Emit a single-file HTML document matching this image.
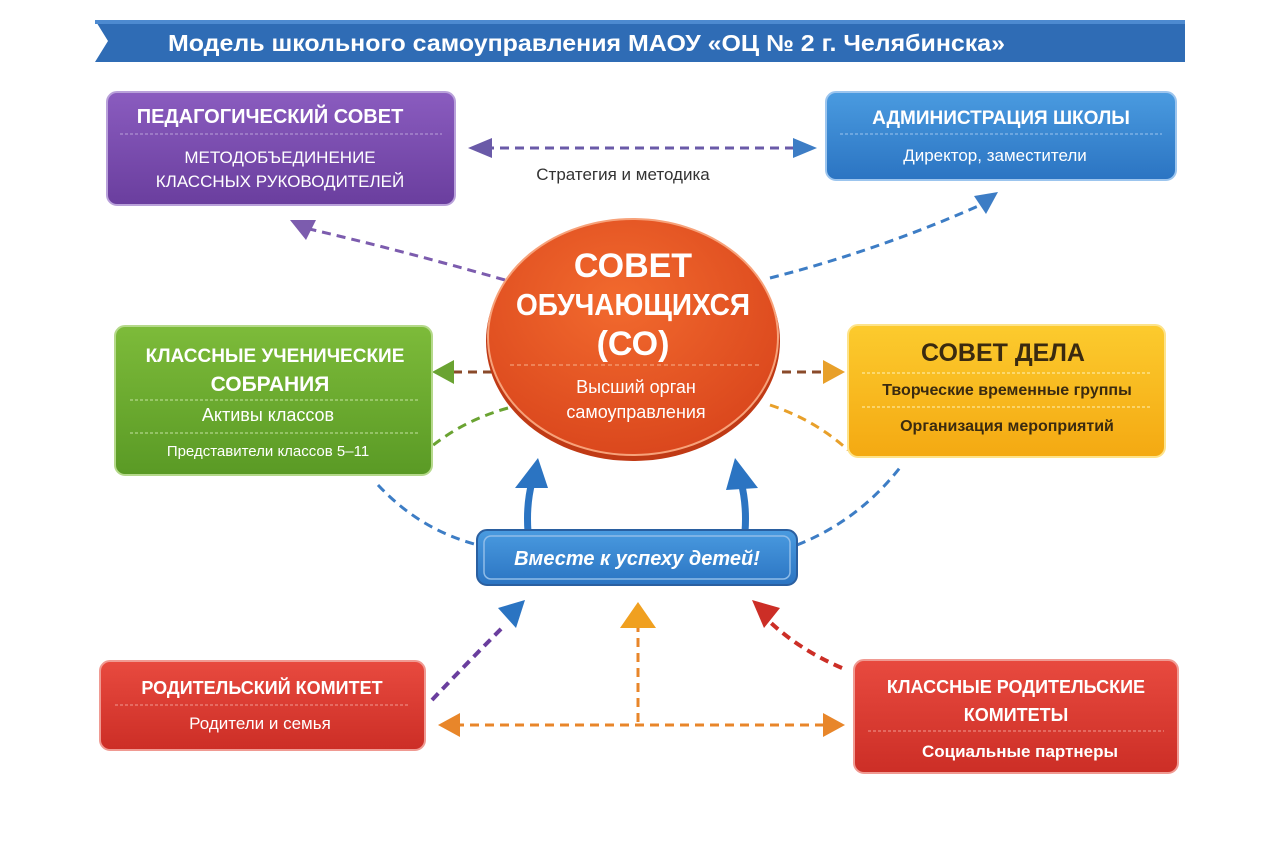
<!DOCTYPE html>
<html><head><meta charset="utf-8"><style>
body{margin:0;background:#fff;}
svg{display:block;font-family:"Liberation Sans","DejaVu Sans",sans-serif;}
</style></head><body>
<svg width="1280" height="853" viewBox="0 0 1280 853" xmlns="http://www.w3.org/2000/svg">
<defs>
<linearGradient id="gp" x1="0" y1="0" x2="0" y2="1"><stop offset="0" stop-color="#8a5cbf"/><stop offset="1" stop-color="#6a3e9e"/></linearGradient>
<linearGradient id="gb" x1="0" y1="0" x2="0" y2="1"><stop offset="0" stop-color="#4a9be0"/><stop offset="1" stop-color="#2b74c2"/></linearGradient>
<linearGradient id="gg" x1="0" y1="0" x2="0" y2="1"><stop offset="0" stop-color="#7dbb3a"/><stop offset="1" stop-color="#5a9a25"/></linearGradient>
<linearGradient id="gy" x1="0" y1="0" x2="0" y2="1"><stop offset="0" stop-color="#fccb2e"/><stop offset="1" stop-color="#f4a912"/></linearGradient>
<linearGradient id="gr" x1="0" y1="0" x2="0" y2="1"><stop offset="0" stop-color="#e84a3f"/><stop offset="1" stop-color="#cc2e26"/></linearGradient>
<radialGradient id="go" cx="0.45" cy="0.35" r="0.7"><stop offset="0" stop-color="#f26a2e"/><stop offset="1" stop-color="#d9451c"/></radialGradient>
</defs>
<!-- banner -->
<polygon points="95,20 1185,20 1185,62 95,62 108,41" fill="#2f6cb5"/>
<rect x="95" y="20" width="1090" height="4" fill="#4d8ad0"/>
<text x="168" y="51" font-size="23" font-weight="bold" fill="#fff" textLength="837" lengthAdjust="spacingAndGlyphs">Модель школьного самоуправления МАОУ «ОЦ № 2 г. Челябинска»</text>

<g fill="none" stroke-width="3" stroke-dasharray="9,6">
<line x1="485" y1="148" x2="800" y2="148" stroke="#6a5aa8"/>
<path d="M505,280 Q400,250 305,228" stroke="#7c5cae"/>
<path d="M770,278 Q880,250 985,203" stroke="#3d7dc5"/>
<line x1="492" y1="372" x2="452" y2="372" stroke="#8a4a2a"/>
<line x1="782" y1="372" x2="830" y2="372" stroke="#8a4a2a"/>
<path d="M508,408 Q465,420 432,446" stroke="#6aa332"/>
<path d="M770,405 Q815,420 848,450" stroke="#e8a02a"/>
<path d="M378,485 Q420,530 478,545" stroke="#3d7dc5"/>
<path d="M797,545 Q860,520 902,465" stroke="#3d7dc5"/>
<path d="M432,700 Q470,660 505,625" stroke="#6a3e9e" stroke-width="4"/>
<line x1="638" y1="722" x2="638" y2="625" stroke="#e8862a"/>
<path d="M842,668 Q800,650 770,622" stroke="#cc2e26" stroke-width="4"/>
<line x1="455" y1="725" x2="825" y2="725" stroke="#e8862a"/>
</g>
<polygon points="468,148 492,138 492,158" fill="#6a5aa8"/>
<polygon points="817,148 793,138 793,158" fill="#3d7dc5"/>
<polygon points="290,220 316,220 306,240" fill="#7c5cae"/>
<polygon points="998,192 974,196 986,214" fill="#3d7dc5"/>
<polygon points="432,372 454,360 454,384" fill="#6aa332"/>
<polygon points="845,372 823,360 823,384" fill="#e8a02a"/>
<polygon points="525,600 498,608 516,628" fill="#2b74c2"/>
<polygon points="638,602 620,628 656,628" fill="#f0a020"/>
<polygon points="752,600 764,628 780,608" fill="#cc2e26"/>
<polygon points="438,725 460,713 460,737" fill="#e8862a"/>
<polygon points="845,725 823,713 823,737" fill="#e8862a"/>
<g fill="none" stroke="#2b74c2" stroke-width="7">
<path d="M528,532 Q526,505 532,482"/>
<path d="M745,532 Q747,505 741,482"/>
</g>
<polygon points="538,458 515,488 548,488" fill="#2b74c2"/>
<polygon points="735,458 726,490 758,488" fill="#2b74c2"/>

<rect x="107" y="92" width="348" height="113" rx="10" fill="url(#gp)" stroke="#b9a1da" stroke-width="2"/>
<text x="270" y="123" font-size="20" font-weight="bold" fill="#fff" text-anchor="middle">ПЕДАГОГИЧЕСКИЙ СОВЕТ</text>
<line x1="120" y1="134" x2="442" y2="134" stroke="#b9a1da" stroke-dasharray="3,2"/>
<text x="280" y="163" font-size="17" fill="#fff" text-anchor="middle">МЕТОДОБЪЕДИНЕНИЕ</text>
<text x="280" y="187" font-size="17" fill="#fff" text-anchor="middle">КЛАССНЫХ РУКОВОДИТЕЛЕЙ</text>
<rect x="826" y="92" width="350" height="88" rx="10" fill="url(#gb)" stroke="#9cc5ee" stroke-width="2"/>
<text x="1001" y="124" font-size="19" font-weight="bold" fill="#fff" text-anchor="middle">АДМИНИСТРАЦИЯ ШКОЛЫ</text>
<line x1="840" y1="134" x2="1162" y2="134" stroke="#9cc5ee" stroke-dasharray="3,2"/>
<text x="995" y="161" font-size="17" fill="#fff" text-anchor="middle">Директор, заместители</text>
<text x="623" y="180" font-size="17" fill="#333" text-anchor="middle">Стратегия и методика</text>

<ellipse cx="633" cy="341" rx="147" ry="120" fill="#c03a15"/>
<ellipse cx="633" cy="337" rx="145" ry="118" fill="url(#go)" stroke="#f7a27a" stroke-width="2"/>
<text x="633" y="277" font-size="34" font-weight="bold" fill="#fff" text-anchor="middle">СОВЕТ</text>
<text x="633" y="315" font-size="31" font-weight="bold" fill="#fff" text-anchor="middle" textLength="234" lengthAdjust="spacingAndGlyphs">ОБУЧАЮЩИХСЯ</text>
<text x="633" y="355" font-size="34" font-weight="bold" fill="#fff" text-anchor="middle">(СО)</text>
<line x1="510" y1="365" x2="760" y2="365" stroke="#f7b08a" stroke-dasharray="4,3"/>
<text x="636" y="393" font-size="18" fill="#fff" text-anchor="middle">Высший орган</text>
<text x="636" y="418" font-size="18" fill="#fff" text-anchor="middle">самоуправления</text>

<rect x="115" y="326" width="317" height="149" rx="10" fill="url(#gg)" stroke="#b5d98b" stroke-width="2"/>
<text x="275" y="362" font-size="19" font-weight="bold" fill="#fff" text-anchor="middle">КЛАССНЫЕ УЧЕНИЧЕСКИЕ</text>
<text x="270" y="391" font-size="21" font-weight="bold" fill="#fff" text-anchor="middle">СОБРАНИЯ</text>
<line x1="130" y1="400" x2="418" y2="400" stroke="#c5e3a0" stroke-dasharray="3,2"/>
<text x="268" y="421" font-size="18" fill="#fff" text-anchor="middle">Активы классов</text>
<line x1="130" y1="433" x2="418" y2="433" stroke="#c5e3a0" stroke-dasharray="3,2"/>
<text x="268" y="456" font-size="15" fill="#fff" text-anchor="middle">Представители классов 5–11</text>

<rect x="848" y="325" width="317" height="132" rx="10" fill="url(#gy)" stroke="#fde38a" stroke-width="2"/>
<text x="1003" y="361" font-size="25" font-weight="bold" fill="#3a2a10" text-anchor="middle">СОВЕТ ДЕЛА</text>
<line x1="862" y1="373" x2="1152" y2="373" stroke="#fff3b8" stroke-dasharray="3,2"/>
<text x="1007" y="395" font-size="16" font-weight="bold" fill="#3a2a10" text-anchor="middle">Творческие временные группы</text>
<line x1="862" y1="407" x2="1152" y2="407" stroke="#fff3b8" stroke-dasharray="3,2"/>
<text x="1007" y="431" font-size="16" font-weight="bold" fill="#3a2a10" text-anchor="middle">Организация мероприятий</text>

<rect x="477" y="530" width="320" height="55" rx="10" fill="url(#gb)" stroke="#2a5fa0" stroke-width="2"/>
<rect x="484" y="536" width="306" height="43" rx="7" fill="none" stroke="#8fbce8" stroke-width="1.5"/>
<text x="637" y="565" font-size="20" font-weight="bold" font-style="italic" fill="#fff" text-anchor="middle">Вместе к успеху детей!</text>

<rect x="100" y="661" width="325" height="89" rx="10" fill="url(#gr)" stroke="#f09a92" stroke-width="2"/>
<text x="262" y="694" font-size="18" font-weight="bold" fill="#fff" text-anchor="middle">РОДИТЕЛЬСКИЙ КОМИТЕТ</text>
<line x1="115" y1="705" x2="410" y2="705" stroke="#f09a92" stroke-dasharray="3,2"/>
<text x="260" y="729" font-size="17" fill="#fff" text-anchor="middle">Родители и семья</text>

<rect x="854" y="660" width="324" height="113" rx="10" fill="url(#gr)" stroke="#f09a92" stroke-width="2"/>
<text x="1016" y="693" font-size="18" font-weight="bold" fill="#fff" text-anchor="middle">КЛАССНЫЕ РОДИТЕЛЬСКИЕ</text>
<text x="1016" y="721" font-size="18" font-weight="bold" fill="#fff" text-anchor="middle">КОМИТЕТЫ</text>
<line x1="868" y1="731" x2="1164" y2="731" stroke="#f09a92" stroke-dasharray="3,2"/>
<text x="1020" y="757" font-size="17" font-weight="bold" fill="#fff" text-anchor="middle">Социальные партнеры</text>
</svg>
</body></html>
